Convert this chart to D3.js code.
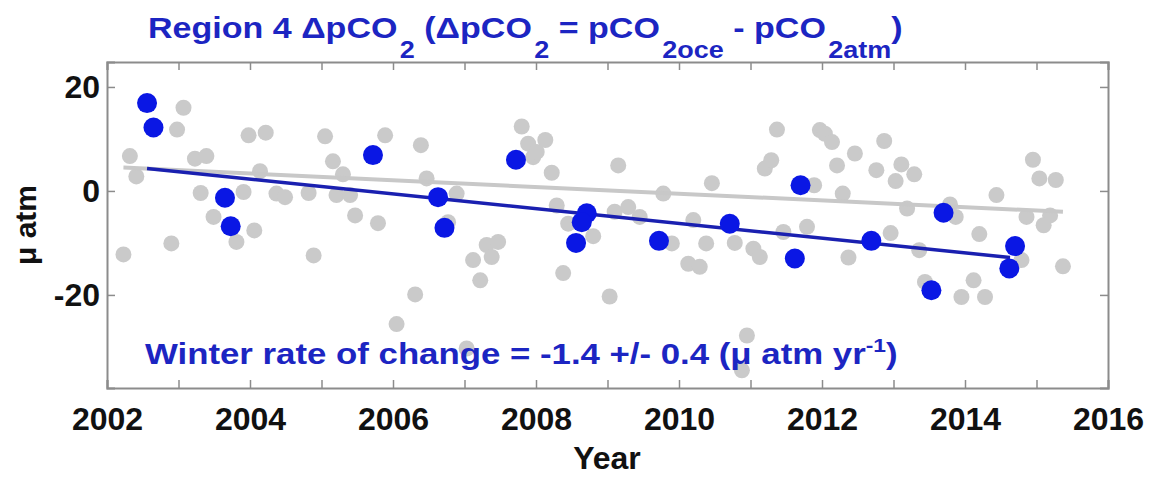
<!DOCTYPE html>
<html>
<head>
<meta charset="utf-8">
<script src="https://cdn.jsdelivr.net/npm/d3@7"></script>
<style>
  body { margin: 0; background: #fff; }
  svg { display: block; font-family: "Liberation Sans", Arial, sans-serif; font-weight: bold; }
</style>
</head>
<body>
<svg id="chart" width="1151" height="477"></svg>
<script>
// all samples (grey)
const allYears = [2003.07, 2002.98, 2002.32, 2002.41, 2003.23, 2003.39, 2003.98, 2004.22, 2005.05, 2005.16,
  2005.30, 2004.14, 2003.31, 2003.91, 2004.37, 2004.49, 2004.82, 2005.21, 2005.40, 2005.47,
  2003.49, 2004.06, 2003.81, 2002.90, 2002.23, 2004.89, 2005.89, 2006.39, 2006.47, 2006.89,
  2006.77, 2005.79, 2007.31, 2007.47, 2007.38, 2007.12, 2007.22, 2006.31, 2006.05, 2007.03,
  2007.80, 2007.89, 2008.13, 2007.96, 2008.01, 2008.22, 2008.29, 2008.45, 2008.80, 2008.38,
  2009.03, 2009.15, 2009.10, 2009.29, 2009.45, 2009.78, 2009.90, 2010.13, 2010.29, 2010.20,
  2010.38, 2010.46, 2010.78, 2011.04, 2011.13, 2010.95, 2010.88, 2011.37, 2011.20, 2011.29,
  2011.46, 2011.79, 2011.89, 2011.97, 2012.04, 2012.14, 2012.21, 2012.46, 2012.29, 2012.37,
  2012.76, 2012.87, 2013.11, 2013.03, 2013.29, 2013.19, 2012.96, 2013.36, 2013.79, 2013.87,
  2013.44, 2014.20, 2014.44, 2014.12, 2013.95, 2014.28, 2014.79, 2014.86, 2014.95, 2015.04,
  2015.27, 2015.19, 2015.10, 2015.37];
const allValues = [16.0, 11.8, 6.7, 2.8, 6.2, 6.7, 10.7, 11.2, 10.5, 5.7,
  3.2, 3.8, -0.4, -0.2, -0.5, -1.2, -0.4, -0.8, -0.8, -4.7,
  -5.0, -7.6, -9.8, -10.1, -12.2, -12.4, 10.7, 8.8, 2.4, -0.5,
  -6.0, -6.2, -10.4, -9.8, -12.7, -13.3, -17.2, -19.9, -25.6, -30.3,
  12.4, 9.1, 9.8, 6.5, 7.5, 3.5, -2.8, -6.3, -8.7, -15.8,
  -20.3, 4.9, -4.0, -3.1, -5.0, -0.5, -10.1, -14.0, -14.6, -5.6,
  -10.1, 1.5, -10.0, -11.1, -12.7, -27.8, -34.5, 11.8, 4.3, 5.9,
  -7.9, -6.9, 1.1, 11.7, 11.0, 9.4, 4.9, 7.2, -0.5, -12.8,
  4.0, 9.6, 5.1, 1.9, 3.2, -3.4, -8.1, -11.4, -2.6, -5.0,
  -17.5, -8.3, -0.8, -17.2, -20.4, -20.4, -13.3, -5.0, 6.0, 2.4,
  2.1, -4.7, -6.6, -14.5];

// winter samples (blue)
const winterYears = [2002.56, 2002.65, 2003.65, 2003.73, 2005.72, 2006.63, 2006.72, 2007.72, 2008.71, 2008.64,
  2008.56, 2009.72, 2010.71, 2011.70, 2011.62, 2012.69, 2013.70, 2013.53, 2014.70, 2014.62];
const winterValues = [16.9, 12.2, -1.3, -6.8, 6.9, -1.2, -7.1, 6.0, -4.3, -6.0,
  -10.0, -9.6, -6.3, 1.1, -13.0, -9.6, -4.2, -19.1, -10.6, -14.9];

// trend lines, end points [year, value]
const allTrend = [[2002.23, 4.5], [2015.37, -4.0]];
const winterTrend = [[2002.56, 4.3], [2014.63, -12.8]];

const xTicks = d3.range(2002, 2017);
const yTicks = [-20, 0, 20];

const plot = { left: 107, right: 1108, top: 62, bottom: 388 };
const svg = d3.select("#chart");

const x = d3.scaleLinear().domain([2002, 2016]).range([plot.left, plot.right]);
const y = d3.scaleLinear().domain([-37.9, 24.8]).range([plot.bottom, plot.top]);

const blueText = "#1c25c2";
const axisGrey = "#8c8c8c";

// points and lines
const all = allYears.map((d, i) => [d, allValues[i]]);
const winter = winterYears.map((d, i) => [d, winterValues[i]]);
const line = d3.line().x(d => x(d[0])).y(d => y(d[1]));

svg.append("g").selectAll("circle")
  .data(all)
  .join("circle")
    .attr("cx", d => x(d[0]))
    .attr("cy", d => y(d[1]))
    .attr("r", 8)
    .attr("fill", "#cacaca");

svg.append("path").datum(allTrend)
  .attr("d", line).attr("fill", "none")
  .attr("stroke", "#c8c8c8").attr("stroke-width", 4);

svg.append("path").datum(winterTrend)
  .attr("d", line).attr("fill", "none")
  .attr("stroke", "#1a20b0").attr("stroke-width", 3.5);

svg.append("g").selectAll("circle")
  .data(winter)
  .join("circle")
    .attr("cx", d => x(d[0]))
    .attr("cy", d => y(d[1]))
    .attr("r", 10)
    .attr("fill", "#0a17e4");

// box with inward ticks on all sides
const styleAxis = g => {
  g.select(".domain").attr("stroke", axisGrey).attr("stroke-width", 2);
  g.selectAll(".tick line").attr("stroke", axisGrey).attr("stroke-width", 1.5);
  g.selectAll(".tick text").attr("fill", "#111").style("font-size", "32px").style("font-weight", "bold")
    .style("font-family", "'Liberation Sans', Arial, sans-serif");
};

svg.append("g")
  .attr("transform", `translate(0,${plot.bottom})`)
  .call(d3.axisBottom(x).tickValues(xTicks).tickSize(-8).tickPadding(19)
    .tickFormat(d => d % 2 === 0 ? String(d) : ""))
  .call(styleAxis);

svg.append("g")
  .attr("transform", `translate(0,${plot.top})`)
  .call(d3.axisTop(x).tickValues(xTicks).tickSize(-8).tickFormat(""))
  .call(styleAxis);

svg.append("g")
  .attr("transform", `translate(${plot.left},0)`)
  .call(d3.axisLeft(y).tickValues(yTicks).tickSize(-8).tickPadding(7).tickFormat(d => String(d)))
  .call(styleAxis);

svg.append("g")
  .attr("transform", `translate(${plot.right},0)`)
  .call(d3.axisRight(y).tickValues(yTicks).tickSize(-8).tickFormat(""))
  .call(styleAxis);

// stretch a text horizontally so it spans [x0, x1] (the original used a wide Helvetica)
function fitWidth(sel, x0, x1, baseY) {
  const w = sel.node().getBBox().width;
  sel.attr("transform", `translate(${x0},${baseY}) scale(${(x1 - x0) / w},1)`);
}

// title with MATLAB-style subscripts
const title = svg.append("text").attr("fill", blueText).style("font-size", "29px");
const sub = (t, s) => {
  t.append("tspan").text(s).attr("dy", 20).attr("dx", 2).style("font-size", "23px");
};
title.append("tspan").text("Region 4 ΔpCO");
sub(title, "2");
title.append("tspan").text(" (ΔpCO").attr("dy", -20);
sub(title, "2");
title.append("tspan").text(" = pCO").attr("dy", -20);
sub(title, "2oce");
title.append("tspan").text(" - pCO").attr("dy", -20);
sub(title, "2atm");
title.append("tspan").text(")").attr("dy", -20);
fitWidth(title, 148, 903, 38);

const note = svg.append("text").attr("fill", blueText).style("font-size", "29px");
note.append("tspan").text("Winter rate of change = -1.4 +/- 0.4 (μ atm yr");
note.append("tspan").text("-1").attr("dy", -12).style("font-size", "19px");
note.append("tspan").text(")").attr("dy", 12);
fitWidth(note, 145, 898, 364);

svg.append("text")
  .attr("transform", `translate(36,${(plot.top + plot.bottom) / 2}) rotate(-90)`)
  .attr("text-anchor", "middle")
  .attr("fill", "#111")
  .style("font-size", "30px")
  .text("μ atm");

svg.append("text")
  .attr("x", 607).attr("y", 469)
  .attr("text-anchor", "middle")
  .attr("fill", "#111")
  .style("font-size", "32px")
  .text("Year");
</script>
</body>
</html>
